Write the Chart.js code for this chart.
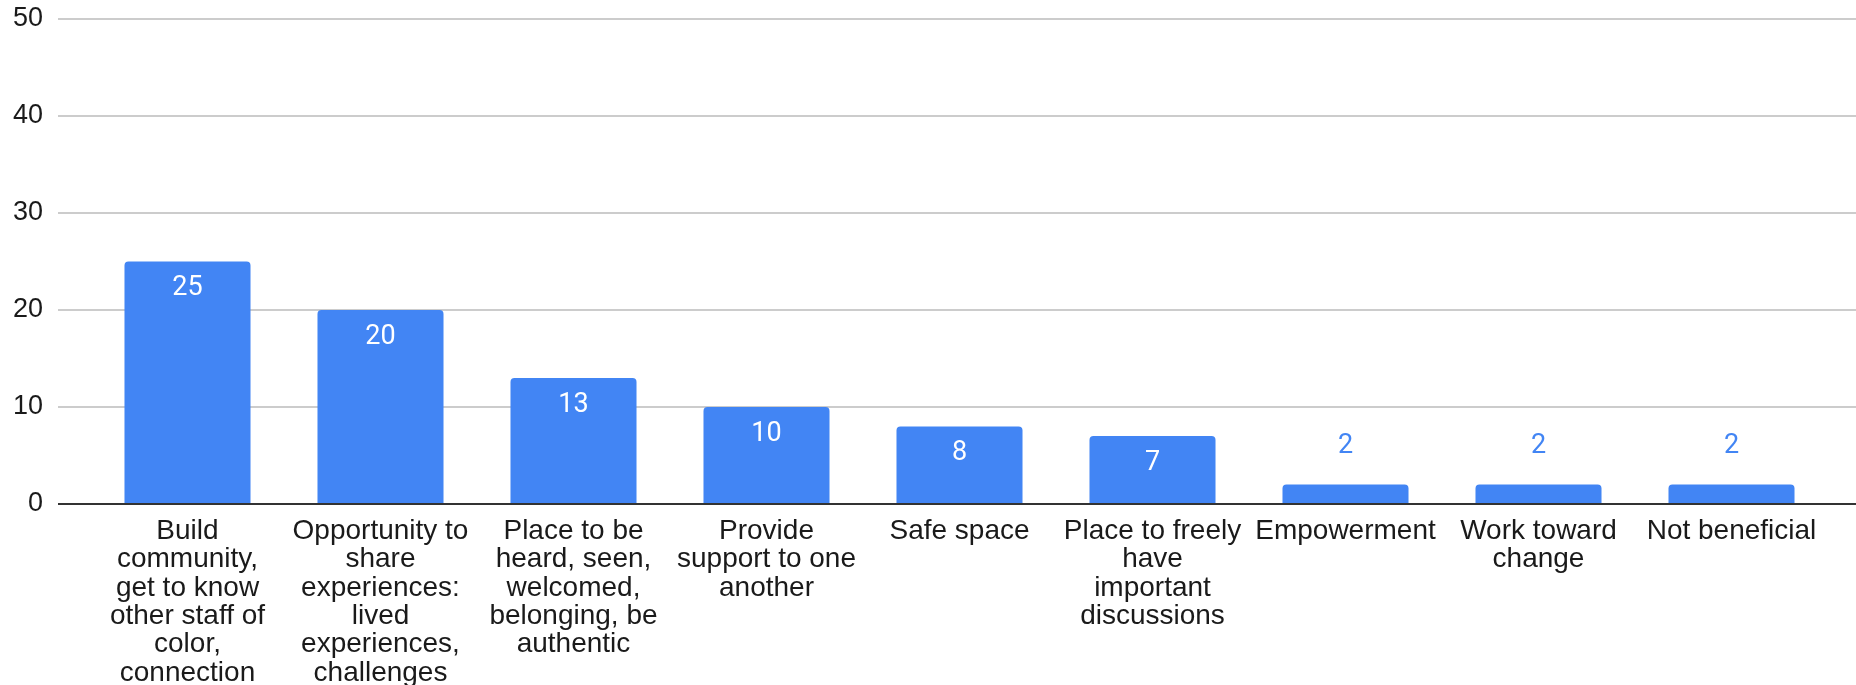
<!DOCTYPE html>
<html><head><meta charset="utf-8">
<script src="https://cdn.jsdelivr.net/npm/chart.js@4/dist/chart.umd.min.js"></script>
<style>html,body{margin:0;padding:0;background:#fff;overflow:hidden}#wrap{width:1856px;height:685px;position:relative}</style>
</head><body><div id="wrap"><canvas id="c" width="1856" height="685"></canvas></div>
<script>
const categories = [
  ["Build","community,","get to know","other staff of","color,","connection"],
  ["Opportunity to","share","experiences:","lived","experiences,","challenges"],
  ["Place to be","heard, seen,","welcomed,","belonging, be","authentic"],
  ["Provide","support to one","another"],
  ["Safe space"],
  ["Place to freely","have","important","discussions"],
  ["Empowerment"],
  ["Work toward","change"],
  ["Not beneficial"]
];
const counts = [25, 20, 13, 10, 8, 7, 2, 2, 2];
const yMin = 0, yMax = 50, yStep = 10;

const BLUE = '#4285F4';
const gridColor = (c) => (c.tick && c.tick.value === 0) ? '#333333' : '#cccccc';

const valueLabels = {
  id: 'valueLabels',
  afterDatasetsDraw(chart) {
    const ctx = chart.ctx;
    const meta = chart.getDatasetMeta(0);
    ctx.save();
    ctx.font = '27px Roboto, "Liberation Sans", sans-serif';
    ctx.textAlign = 'center';
    ctx.textBaseline = 'middle';
    meta.data.forEach((bar, i) => {
      const v = counts[i];
      const h = bar.base - bar.y;
      if (h > 50) {
        ctx.fillStyle = '#ffffff';
        ctx.fillText(String(v), bar.x, bar.y + 27);
      } else {
        ctx.fillStyle = BLUE;
        ctx.fillText(String(v), bar.x, bar.y - 38);
      }
    });
    ctx.restore();
  }
};

new Chart(document.getElementById('c'), {
  type: 'bar',
  data: {
    labels: categories,
    datasets: [{
      data: counts,
      backgroundColor: BLUE,
      borderRadius: 4,
      borderSkipped: 'start',
      categoryPercentage: 1,
      barPercentage: 0.653
    }]
  },
  options: {
    responsive: false,
    animation: false,
    devicePixelRatio: 1,
    layout: { padding: { top: 19, right: 0, bottom: 0, left: 0 } },
    plugins: { legend: { display: false }, tooltip: { enabled: false } },
    scales: {
      x: {
        grid: { display: false, drawTicks: false },
        border: { display: false },
        ticks: {
          autoSkip: false, maxRotation: 0, minRotation: 0,
          padding: 13,
          color: '#1a1a1a',
          font: { family: '"Liberation Sans", Arial, sans-serif', size: 28, lineHeight: 1.014 }
        },
        afterFit(s) { s.height = 181; }
      },
      y: {
        min: yMin, max: yMax,
        ticks: {
          stepSize: yStep, padding: 15, color: '#1a1a1a',
          font: { family: '"Liberation Sans", Arial, sans-serif', size: 27 }
        },
        grid: { color: gridColor, lineWidth: 2, drawTicks: true, tickLength: 33 },
        border: { display: false },
        afterFit(s) { s.width = 91; s.paddingTop = 0; s.paddingBottom = 0; }
      },
      y2: {
        position: 'right',
        min: yMin, max: yMax,
        ticks: { stepSize: yStep, display: false },
        grid: { color: gridColor, lineWidth: 2, drawOnChartArea: false, drawTicks: true, tickLength: 28 },
        border: { display: false },
        afterFit(s) { s.width = 28; s.paddingTop = 0; s.paddingBottom = 0; }
      }
    }
  },
  plugins: [valueLabels]
});
</script>
</body></html>
